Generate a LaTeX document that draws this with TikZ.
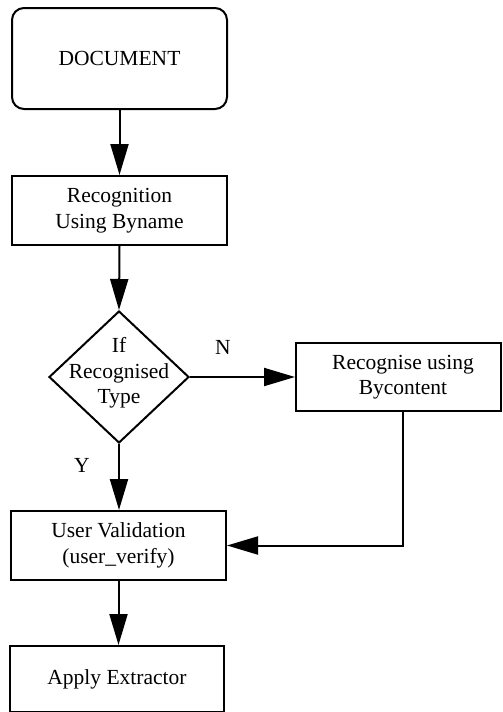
\documentclass[tikz,border=0pt]{standalone}
\usepackage{fontspec}
\setmainfont{Liberation Serif}
\usetikzlibrary{arrows.meta,shapes.geometric}
\begin{document}
\begin{tikzpicture}[x=1pt,y=1pt,
  every node/.style={font=\fontsize{21.5}{25.5}\selectfont},
  box/.style={draw,line width=2pt,minimum width=215pt,minimum height=69pt,inner sep=0pt,align=center},
  decision/.style={draw,diamond,line width=2pt,minimum width=140pt,minimum height=132pt,inner sep=0pt},
  flow/.style={line width=2pt,-{Triangle[length=31pt,width=18pt]}},
  lbl/.style={inner sep=0pt}]
\useasboundingbox (0,0) rectangle (503,-712);
\clip (0,0) rectangle (503,-712);
\node[box,rounded corners=12pt,minimum height=101pt] (doc) at (119.5,-58.5) {DOCUMENT};
\node[box] (rec) at (119.5,-210.5) {Recognition\\[1pt]Using Byname};
\node[decision] (dec) at (119,-377) {};
\node[lbl,align=center] (dect) at (119,-373) {If\\Recognised\\Type};
\node[box,minimum width=205pt,minimum height=68pt] (byc) at (398.5,-377) {\hspace*{9pt}Recognise using\\\hspace*{9pt}Bycontent};
\node[box] (uv) at (118.5,-545.5) {User Validation\\(user\_verify)};
\node[box,minimum width=214pt,minimum height=66pt] (app) at (117,-679) {Apply Extractor};
\node[lbl] (nl) at (223,-347) {N};
\node[lbl] (yl) at (82,-465) {Y};
\coordinate (bycout) at ([xshift=4.5pt]byc.south);
\coordinate (corner) at (bycout |- uv.east);
\draw[flow] (doc) -- (rec);
\draw[flow] (rec.south) -- (dec.north);
\draw[flow] (dec.east) -- (byc.west);
\draw[flow] (dec.south) -- (dec.south |- uv.north);
\draw[flow] (bycout) -- (corner) -- (uv.east);
\draw[flow] (uv.south) -- (uv.south |- app.north);
\end{tikzpicture}
\end{document}
